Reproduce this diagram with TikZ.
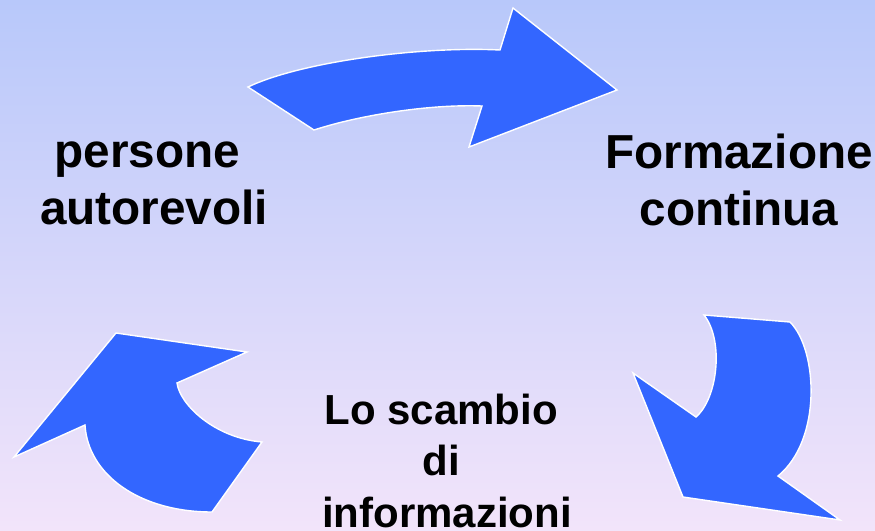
\documentclass[tikz,border=0pt]{standalone}
\usepackage{fontspec}
\setmainfont{Liberation Sans}
\begin{document}
\begin{tikzpicture}[x=1pt,y=-1pt,
  bigarrow/.style={fill=arrowblue,draw=white,line width=1.4pt},
  label/.style={font=\bfseries\fontsize{47.7}{56.5}\selectfont,align=center,anchor=base,inner sep=0pt},
  smalllabel/.style={label,font=\bfseries\fontsize{42}{51.5}\selectfont,text depth=0pt}]
\definecolor{arrowblue}{HTML}{3366FF}
\definecolor{bgtop}{HTML}{B8C8FA}
\definecolor{bgbot}{HTML}{F2E4FA}
\useasboundingbox (0,0) rectangle (875,530);
\shade[top color=bgtop,bottom color=bgbot] (0,0) rectangle (875,530);
% top arrow
\draw[bigarrow] (248,87) -- (314,130)
  .. controls (360,115) and (430,104) .. (482,106)
  -- (469,147) -- (617,90) -- (513,8) -- (500,50)
  .. controls (420,46) and (300,62) .. cycle;
% right arrow
\draw[bigarrow] (704,315) -- (790,322)
  .. controls (818,350) and (822,440) .. (778,476)
  -- (840,520) -- (683,497) -- (633,373) -- (696,417)
  .. controls (718,398) and (724,340) .. cycle;
% left arrow
\draw[bigarrow] (116,333) -- (247,352) -- (177,383)
  .. controls (180,405) and (215,438) .. (262,442)
  -- (212,512)
  .. controls (140,512) and (88,475) .. (85,425)
  -- (14,457) -- cycle;
\node[label] (persone) at (154,224) {persone\kern0.278em\\autorevoli};
\node[label] (formazione) at (739,225) {Formazione\\continua};
\node[smalllabel] (scambio) at (447,527) {Lo scambio\kern0.278em\\di\kern0.278em\\informazioni};
\end{tikzpicture}
\end{document}
